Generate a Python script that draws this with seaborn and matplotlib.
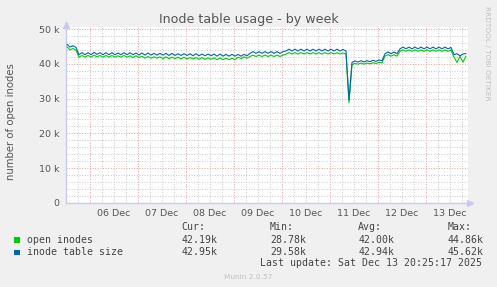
import matplotlib
matplotlib.use("Agg")
import matplotlib.pyplot as plt
import matplotlib.dates as mdates
from matplotlib.ticker import MultipleLocator, FuncFormatter
from matplotlib.patches import Rectangle
import pandas as pd
import seaborn as sns

# ---------------- data (values in thousands) ----------------
start_time = "2025-12-05 12:45"
step = "90min"

table_size = [
    45.6, 44.8, 45.2, 44.7,
    42.6,
    43.2, 42.6, 43.2, 42.6, 43.3, 42.7, 43.2, 42.6, 43.2, 42.6, 43.2, 42.6,
    43.1, 42.6, 43.2, 42.6, 43.2, 42.6, 43.1, 42.5, 43.1, 42.5, 43.1,
    42.5, 43.0, 42.5, 43.0, 42.5, 43.0, 42.4, 43.0, 42.4, 42.9, 42.4, 42.9,
    42.4, 42.9, 42.3, 42.9, 42.3, 42.8, 42.3, 42.8, 42.3, 42.8, 42.2, 42.8,
    42.2, 42.7, 42.2, 42.7, 42.2,
    42.7, 42.2, 42.7, 42.3,
    43.0, 43.5, 43.0, 43.5, 43.0, 43.5, 43.0, 43.5, 43.0, 43.5, 43.0, 43.5,
    43.7, 44.2, 43.7, 44.2, 43.7, 44.2, 43.7, 44.2, 43.7, 44.2, 43.7, 44.2,
    43.7, 44.2, 43.7, 44.2, 43.7, 44.2, 43.7, 44.1, 43.7,
    29.58,
    40.4, 40.8, 40.5, 40.9, 40.5, 40.9, 40.6, 41.0, 40.7, 41.1, 40.9,
    42.9, 43.4, 42.9, 43.4, 42.9,
    44.3, 44.8, 44.3, 44.8, 44.3, 44.8, 44.3, 44.8, 44.3, 44.8, 44.3, 44.8,
    44.3, 44.8, 44.3, 44.8, 44.3, 44.7,
    42.6, 42.9, 42.3, 42.8, 42.95,
]

open_inodes = [
    44.86, 44.0, 44.4, 43.9,
    41.9,
    42.4, 41.9, 42.4, 41.9, 42.5, 42.0, 42.4, 41.9, 42.4, 41.9, 42.4, 41.9,
    42.3, 41.9, 42.4, 41.9, 42.3, 41.8, 42.3, 41.8, 42.2, 41.6, 42.1,
    41.6, 42.0, 41.6, 42.0, 41.5, 42.0, 41.5, 41.9, 41.5, 41.9, 41.4, 41.9,
    41.4, 41.8, 41.4, 41.8, 41.3, 41.8, 41.3, 41.7, 41.3, 41.7, 41.2, 41.7,
    41.2, 41.6, 41.2, 41.6, 41.2,
    41.9, 41.5, 42.0, 41.6,
    42.1, 42.5, 42.1, 42.5, 42.1, 42.5, 42.1, 42.5, 42.1, 42.5, 42.1, 42.5,
    42.8, 43.2, 42.8, 43.2, 42.8, 43.2, 42.8, 43.2, 42.8, 43.2, 42.8, 43.2,
    42.8, 43.2, 42.8, 43.2, 42.8, 43.2, 42.8, 43.1, 42.8,
    28.78,
    39.8, 40.1, 39.9, 40.2, 39.9, 40.2, 40.0, 40.3, 40.1, 40.4, 40.3,
    42.2, 42.6, 42.2, 42.6, 42.2,
    43.6, 44.0, 43.6, 44.0, 43.6, 44.0, 43.6, 44.0, 43.6, 44.0, 43.6, 44.0,
    43.6, 44.0, 43.6, 44.0, 43.6, 43.9,
    41.9, 40.4, 42.1, 40.5, 42.19,
]

series_names = ["open inodes", "inode table size"]
series_colors = ["#00CC00", "#0066B3"]
stat_heads = ["Cur:", "Min:", "Avg:", "Max:"]
stats = {
    "open inodes": ["42.19k", "28.78k", "42.00k", "44.86k"],
    "inode table size": ["42.95k", "29.58k", "42.94k", "45.62k"],
}
y_ticks = [0, 10, 20, 30, 40, 50]
title = "Inode table usage - by week"
ylabel = "number of open inodes"
last_update = "Last update: Sat Dec 13 20:25:17 2025"

# ---------------- build frame ----------------
times = pd.date_range(start_time, periods=len(table_size), freq=step)
df = pd.concat([
    pd.DataFrame({"time": times, "value": open_inodes, "series": "open inodes"}),
    pd.DataFrame({"time": times, "value": table_size, "series": "inode table size"}),
])

sns.set_theme(style="white")
plt.rcParams["font.family"] = ["DejaVu Sans"]

W, H = 497, 287
fig = plt.figure(figsize=(W / 100, H / 100), dpi=100)
fig.patch.set_facecolor("#F0F0F0")

ax_l, ax_r, ax_t, ax_b = 66, 468, 27, 203
ax = fig.add_axes([ax_l / W, (H - ax_b) / H, (ax_r - ax_l) / W, (ax_b - ax_t) / H])
ax.set_facecolor("white")

sns.lineplot(data=df, x="time", y="value", hue="series", hue_order=series_names,
             palette=dict(zip(series_names, series_colors)), linewidth=0.8,
             legend=False, ax=ax, zorder=3)

ax.set_xlim(pd.Timestamp("2025-12-05 12:15"), pd.Timestamp("2025-12-13 21:15"))
ax.set_ylim(0, 50 * (ax_b - ax_t) / 174.0)

# y ticks
ax.set_yticks(y_ticks)
ax.yaxis.set_major_formatter(FuncFormatter(lambda v, p: "0" if v == 0 else f"{int(v)} k"))
ax.yaxis.set_minor_locator(MultipleLocator(2))

# x ticks: major at midnight, labels at noon
ax.xaxis.set_major_locator(mdates.DayLocator())
ax.xaxis.set_major_formatter(FuncFormatter(lambda v, p: ""))
ax.xaxis.set_minor_locator(mdates.HourLocator(byhour=[6, 12, 18]))
def minor_fmt(v, p):
    d = mdates.num2date(v)
    return d.strftime("%d %b") if d.hour == 12 else ""
ax.xaxis.set_minor_formatter(FuncFormatter(minor_fmt))

ax.grid(which="major", color="#E4A8A8", linestyle=(0, (1, 1.5)), linewidth=0.75, zorder=1)
ax.grid(which="minor", color="#D0D0D0", linestyle=(0, (1, 1.5)), linewidth=0.75, zorder=1)
ax.set_axisbelow(True)

ax.tick_params(axis="both", which="both", length=0, labelsize=6.8, colors="#555555")
ax.tick_params(axis="y", pad=4.5)
ax.tick_params(axis="x", which="both", pad=4.0)
ax.set_xlabel("")
ax.set_ylabel("")

for s in ["top", "right"]:
    ax.spines[s].set_visible(False)
for s in ["left", "bottom"]:
    ax.spines[s].set_color("#C8C8F0")
    ax.spines[s].set_linewidth(1.0)

# axis arrows
ax.plot([1.005], [0], marker=">", color="#C8C8F0", markersize=4, transform=ax.transAxes, clip_on=False)
ax.plot([0], [1.01], marker="^", color="#C8C8F0", markersize=4, transform=ax.transAxes, clip_on=False)

# title and labels
fig.text(248.5 / W, 1 - 19.3 / H, title, ha="center", va="center", fontsize=9.1, color="#555555")
fig.text(11.5 / W, 1 - 122 / H, ylabel, ha="center", va="center", rotation=90, fontsize=7.3, color="#555555")
fig.text(487.5 / W, 1 - 53 / H, "RRDTOOL / TOBI OETIKER", ha="center", va="center", rotation=270,
         fontsize=5.3, color="#C0C0C0")
fig.text(248.5 / W, 1 - 277 / H, "Munin 2.0.57", ha="center", va="center", fontsize=5.3, color="#C0C0C0")

# legend block
mono = dict(family="DejaVu Sans Mono", fontsize=7.1, color="#444444", va="center")
col_x = [181.7, 270.0, 358.3, 447.7]
for x, h in zip(col_x, stat_heads):
    fig.text(x / W, 1 - 227.3 / H, h, **mono)
row_y = [240.0, 252.3]
for name, color, y in zip(series_names, series_colors, row_y):
    fig.patches.append(Rectangle(((14.3) / W, 1 - (y + 3) / H), 5.8 / W, 5.8 / H,
                                 transform=fig.transFigure, facecolor=color, edgecolor="none"))
    fig.text(26.7 / W, 1 - y / H, name, **mono)
    for x, v in zip(col_x, stats[name]):
        fig.text(x / W, 1 - y / H, v, **mono)
fig.text(482.3 / W, 1 - 262.7 / H, last_update, ha="right", **mono)

fig.savefig("out.png", dpi=100, facecolor=fig.get_facecolor())
